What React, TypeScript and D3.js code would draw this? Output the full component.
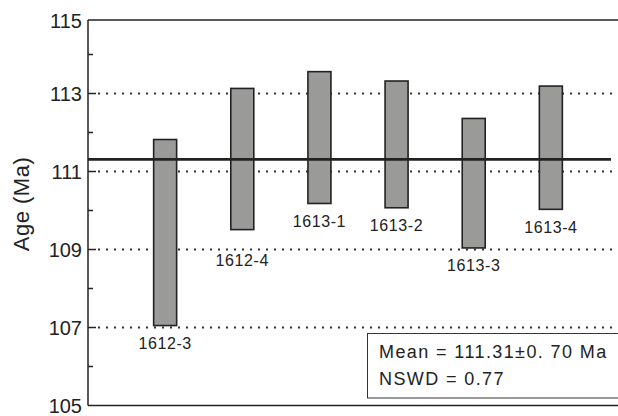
import React from "react";
import * as d3 from "d3";

// Weighted-mean age plot: one bar per sample spanning its age range
const samples = ["1612-3", "1612-4", "1613-1", "1613-2", "1613-3", "1613-4"];
const ageHigh = [111.82, 113.13, 113.56, 113.32, 112.36, 113.19];
const ageLow = [107.05, 109.51, 110.18, 110.07, 109.04, 110.03];
const majorTicks = [105, 107, 109, 111, 113, 115];
const minorTicks = [106, 108, 110, 112, 114];
const gridTicks = [107, 109, 111, 113];
const meanAge = 111.31;
const meanErr = "0. 70";
const mswd = "0.77";

const W = 618;
const H = 416;
const left = 88;
const frameTop = 20;
const bottom = 405.5;
const font = "'Liberation Sans', Arial, Helvetica, sans-serif";

export default function App() {
  const y = d3.scaleLinear().domain([105, 115]).range([bottom, 15.5]);
  const x = d3.scalePoint<string>().domain(samples).range([left, W + 10]).padding(1);
  const barW = 23;
  const ink = "#222";

  // sample label sits under its bar; pushed below a dotted line it would overlap
  const labelY = (low: number) => {
    let base = y(low) + 23.5;
    const capTop = base - 11.5;
    for (const g of gridTicks) {
      const gy = y(g);
      if (gy > capTop - 3 && gy < base + 3) base = gy + 16;
    }
    return base;
  };

  return (
    <svg
      width={W}
      height={H}
      style={{ position: "absolute", left: 0, top: 0, background: "#fff" }}
      fontFamily={font}
    >
      {/* dotted reference lines */}
      {gridTicks.map((t) => (
        <line
          key={"g" + t}
          x1={left + 10}
          x2={W}
          y1={y(t)}
          y2={y(t)}
          stroke="#333"
          strokeWidth={2}
          strokeDasharray="2,6"
        />
      ))}

      {/* sample bars */}
      {samples.map((s, i) => (
        <g key={s}>
          <rect
            x={x(s)! - barW / 2}
            y={y(ageHigh[i])}
            width={barW}
            height={y(ageLow[i]) - y(ageHigh[i])}
            fill="#9a9b99"
            stroke={ink}
            strokeWidth={1.6}
          />
          <text
            x={x(s)!}
            y={labelY(ageLow[i])}
            textAnchor="middle"
            fontSize={16}
            letterSpacing={0.6}
            fill="#222"
          >
            {s}
          </text>
        </g>
      ))}

      {/* weighted mean line */}
      <line x1={left} x2={611} y1={y(meanAge)} y2={y(meanAge)} stroke={ink} strokeWidth={2.6} />

      {/* frame */}
      <line x1={left} x2={W} y1={frameTop} y2={frameTop} stroke={ink} strokeWidth={1.5} />
      <line x1={left} x2={W} y1={bottom} y2={bottom} stroke={ink} strokeWidth={1.5} />
      <line x1={left} x2={left} y1={frameTop} y2={bottom} stroke={ink} strokeWidth={1.5} />

      {/* ticks */}
      {majorTicks.slice(1, -1).map((t) => (
        <line key={"M" + t} x1={left} x2={left + 8} y1={y(t)} y2={y(t)} stroke={ink} strokeWidth={1.5} />
      ))}
      {minorTicks.map((t) => (
        <line key={"m" + t} x1={left} x2={left + 5} y1={y(t)} y2={y(t)} stroke={ink} strokeWidth={1.5} />
      ))}
      {majorTicks.map((t) => (
        <text
          key={"l" + t}
          x={left - 6}
          y={t === 115 ? frameTop + 8 : y(t) + 7.5}
          textAnchor="end"
          fontSize={20}
          fill="#222"
        >
          {t}
        </text>
      ))}

      <text
        transform={`translate(29, 204) rotate(-90)`}
        textAnchor="middle"
        fontSize={22}
        letterSpacing={0.5}
        fill="#222"
      >
        Age (Ma)
      </text>

      {/* result box */}
      <rect x={367.5} y={333.5} width={270} height={64.5} fill="#fff" stroke="#333" strokeWidth={1} />
      <text x={379} y={358} fontSize={18} letterSpacing={1.4} fill="#222">
        {`Mean = ${meanAge}±${meanErr} Ma`}
      </text>
      <text x={379} y={385} fontSize={18} letterSpacing={1.4} fill="#222">
        {`NSWD = ${mswd}`}
      </text>
    </svg>
  );
}
